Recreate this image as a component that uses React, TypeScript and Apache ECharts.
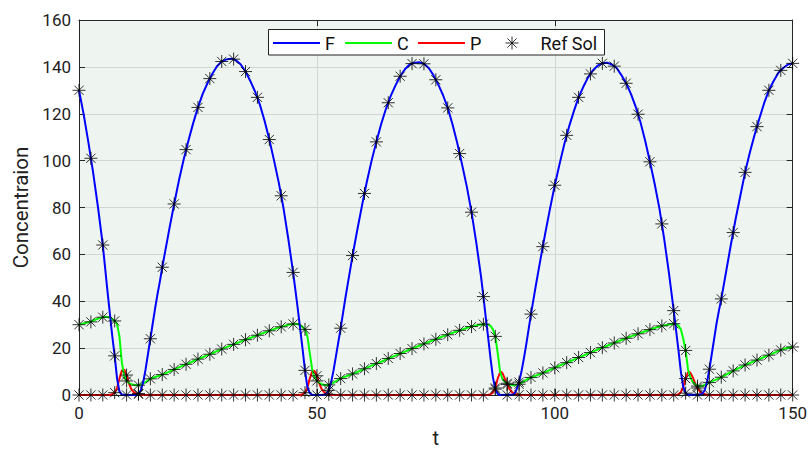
import { useEffect, useRef } from 'react';
import * as echarts from 'echarts';

// Reference-solution sample times (every 2.5)
const tRef = [0, 2.5, 5, 7.5, 10, 12.5, 15, 17.5, 20, 22.5, 25, 27.5, 30, 32.5, 35, 37.5, 40, 42.5, 45, 47.5,
  50, 52.5, 55, 57.5, 60, 62.5, 65, 67.5, 70, 72.5, 75, 77.5, 80, 82.5, 85, 87.5, 90, 92.5, 95, 97.5,
  100, 102.5, 105, 107.5, 110, 112.5, 115, 117.5, 120, 122.5, 125, 127.5, 130, 132.5, 135, 137.5, 140, 142.5, 145, 147.5, 150];

const fRef = [130, 101, 64, 16.7, 0, 0.6, 24, 54.5, 81.5, 104.7, 122.7, 135, 142.3, 143.3, 138, 127, 109, 85, 52.3, 10.5,
  0, 2, 28.5, 59.5, 86, 108, 124.7, 136, 141.4, 141.3, 134.5, 122.5, 103, 78, 42, 2.5, 0, 5.5, 34.5, 63.3,
  89.5, 110.8, 127, 137, 141.5, 140.3, 133, 119.8, 99.5, 73, 36, 0.8, 0, 11, 41, 69.3, 95, 114.5, 130, 138.5, 141.5];

const cRef = [30, 31.2, 33.2, 31.6, 6, 4.2, 6.9, 8.7, 10.9, 13.1, 15.3, 17.4, 19.6, 21.6, 23.6, 25.5, 27.4, 29.1, 30.3, 28,
  6, 4.3, 7, 9, 11.2, 13.4, 15.6, 17.7, 19.8, 21.8, 23.8, 25.7, 27.6, 29.2, 30.2, 25, 5, 4.6, 7.5, 9.4,
  11.6, 13.8, 16, 18.1, 20.2, 22.2, 24.2, 26.1, 27.9, 29.5, 30.4, 19, 3.8, 5.3, 7.6, 10.3, 12.8, 14.9, 17, 19.2, 20.5];

const pRef = [0, 0, 0, 1, 8.5, 0.3, 0, 0, 0, 0, 0, 0, 0, 0, 0, 0, 0, 0, 0, 1,
  8.2, 0.3, 0, 0, 0, 0, 0, 0, 0, 0, 0, 0, 0, 0, 0, 3, 4.5, 0.1, 0, 0,
  0, 0, 0, 0, 0, 0, 0, 0, 0, 0, 0, 7, 3, 0.1, 0, 0, 0, 0, 0, 0, 0];

// Solution curves [t, value]
const fLine = [
  [0, 130], [1, 119.5], [2, 107.5], [3, 94.5], [4, 80], [5, 64], [6, 44], [7, 25], [7.5, 16.7], [8, 7], [8.5, 1.5], [9, 0.2], [10, 0], [12, 0],
  [12.5, 0.6], [13, 2], [13.5, 5.5], [14, 11], [14.5, 17.5], [15, 24], [15.5, 30.5], [16, 37], [16.5, 43], [17, 48.5], [17.5, 54.5], [18, 60], [19, 71], [20, 81.5], [21, 91.5], [22, 100.5], [23, 108.5], [24, 116], [25, 122.7], [26, 128.5], [27, 133], [28, 137], [29, 140.3], [30, 142.3], [31, 143.2], [32, 143.5], [33, 142.8], [34, 141], [35, 138], [36, 134], [37, 129.5], [38, 124], [39, 117], [40, 109], [41, 100], [42, 90.5], [43, 79.5], [44, 66.5], [45, 52.3], [45.5, 44.5], [46, 36.5], [46.5, 28], [47, 19.5], [47.5, 10.5], [48, 3.5], [48.5, 0.8], [49, 0.1], [50, 0], [51.5, 0.1],
  [52, 0.6], [52.5, 2], [53, 5.5], [53.5, 10.5], [54, 16.5], [54.5, 22.5], [55, 28.5], [55.5, 35], [56, 41.5], [56.5, 47.5], [57.5, 59.5], [58.5, 70.5], [59.5, 81], [60.5, 91], [61.5, 100], [62.5, 108], [63.5, 115.5], [64.5, 122], [65.5, 127.5], [66.5, 132], [67.5, 136], [68.5, 139], [69.5, 141], [70.5, 141.8], [71.5, 142], [72.5, 141.3], [73.5, 139.5], [74.5, 136.5], [75.5, 132.5], [76.5, 128], [77.5, 122.5], [78.5, 115.5], [79.5, 107.5], [80.5, 98.5], [81.5, 89], [82.5, 78], [83.5, 65], [84.5, 50.5], [85, 42], [85.5, 33], [86, 24.5], [86.5, 15.5], [87, 7.5], [87.5, 2.5], [88, 0.5], [88.5, 0], [91, 0.1],
  [91.5, 0.5], [92, 2.5], [92.5, 5.5], [93, 10], [93.5, 15.5], [94, 21.5], [94.5, 28], [95, 34.5], [95.5, 40.5], [96, 46.5], [97, 58], [98, 69], [99, 79.5], [100, 89.5], [101, 98.5], [102, 107], [103, 114.5], [104, 121], [105, 127], [106, 131.5], [107, 135.5], [108, 138.5], [109, 140.5], [110, 141.5], [111, 141.8], [112, 141], [113, 139.5], [114, 136.5], [115, 133], [116, 128.5], [117, 123], [118, 116.5], [119, 108.5], [120, 99.5], [121, 90], [122, 79.5], [123, 66.5], [124, 52], [124.5, 44], [125, 36], [125.5, 27.5], [126, 19], [126.5, 10], [127, 3.5], [127.5, 0.8], [128, 0.1], [130.5, 0.1],
  [131, 0.6], [131.5, 2], [132, 5.5], [132.5, 11], [133, 17.5], [133.5, 24], [134, 30.5], [134.5, 36], [135, 41], [136, 52.5], [137, 64], [138, 75], [139, 85], [140, 95], [141, 103.5], [142, 111], [143, 118], [144, 124.5], [145, 130], [146, 134], [147, 137.5], [148, 139.5], [149, 141], [150, 141.5],
];

const cLine = [
  [0, 30], [1, 30.5], [2, 31], [3, 31.8], [4, 32.6], [5, 33.2], [5.5, 33.4], [6, 33.3], [6.5, 33], [7, 32.4], [7.5, 31.6], [8, 30.3], [8.5, 25], [9, 14], [9.5, 8], [10, 6], [10.5, 5.1], [11, 4.6], [12, 4.2], [12.5, 4.2], [13, 4.5], [14, 5.5], [15, 6.9], [16, 7.7], [17, 8.3], [18, 9.1], [19, 10], [20, 10.9], [21, 11.8], [22, 12.7], [23, 13.5], [24, 14.4], [25, 15.3], [26, 16.1], [27, 17], [28, 17.8], [29, 18.7], [30, 19.6], [31, 20.4], [32, 21.2], [33, 22], [34, 22.8], [35, 23.6], [36, 24.3], [37, 25.1], [38, 25.9], [39, 26.6], [40, 27.4], [41, 28.1], [42, 28.8], [43, 29.4], [44, 30], [45, 30.3], [45.5, 30.4], [46, 30.2], [46.5, 29.8], [47, 29], [47.5, 28], [48, 25], [48.5, 18], [49, 11], [49.5, 7.5], [50, 6], [50.5, 5.2], [51, 4.6], [52, 4.2],
  [52.5, 4.3], [53.5, 5.3], [54.5, 6.5], [55.5, 7.5], [56.5, 8.2], [57.5, 9], [58.5, 9.8], [59.5, 10.7], [60.5, 11.6], [61.5, 12.5], [62.5, 13.4], [63.5, 14.2], [64.5, 15.1], [65.5, 16], [66.5, 16.8], [67.5, 17.7], [68.5, 18.5], [69.5, 19.4], [70.5, 20.2], [71.5, 21], [72.5, 21.8], [73.5, 22.6], [74.5, 23.4], [75.5, 24.2], [76.5, 25], [77.5, 25.7], [78.5, 26.5], [79.5, 27.2], [80.5, 27.9], [81.5, 28.6], [82.5, 29.2], [83.5, 29.7], [84.5, 30.1], [85.5, 30.2], [86, 30], [86.5, 29.5], [87, 28], [87.5, 25], [88, 18], [88.5, 10], [89, 6.8], [89.5, 5.6], [90, 5], [90.5, 4.5], [91, 4.2], [91.5, 4.2],
  [92, 4.4], [93, 5.2], [94, 6.5], [95, 7.5], [96, 8.2], [97, 9], [98, 9.8], [99, 10.7], [100, 11.6], [101, 12.5], [102, 13.4], [103, 14.2], [104, 15.1], [105, 16], [106, 16.8], [107, 17.7], [108, 18.5], [109, 19.4], [110, 20.2], [111, 21], [112, 21.8], [113, 22.6], [114, 23.4], [115, 24.2], [116, 25], [117, 25.7], [118, 26.5], [119, 27.2], [120, 27.9], [121, 28.6], [122, 29.2], [123, 29.7], [124, 30.1], [125, 30.4], [125.5, 30.3], [126, 29.5], [126.5, 28], [127, 24], [127.5, 19], [128, 11], [128.5, 7.5], [129, 5.5], [129.5, 4.6], [130, 3.9], [130.5, 3.7], [131, 3.9], [131.5, 4.3], [132, 4.8],
  [132.5, 5.3], [133, 5.8], [134, 6.7], [135, 7.6], [136, 8.7], [137, 9.8], [138, 10.8], [139, 11.8], [140, 12.8], [141, 13.6], [142, 14.5], [143, 15.3], [144, 16.2], [145, 17], [146, 17.9], [147, 18.8], [148, 19.6], [149, 20.2], [150, 20.5],
];

const pLine = [
  [0, 0], [6.5, 0], [7, 0.3], [7.5, 1], [8, 3], [8.5, 7], [9, 10.3], [9.3, 11], [9.6, 10.5], [10, 8.5], [10.5, 5], [11, 2.5], [11.5, 1.2], [12, 0.5], [13, 0.1], [14, 0],
  [46.5, 0], [47, 0.3], [47.5, 1], [48, 3], [48.5, 7], [49, 10], [49.3, 10.4], [49.6, 10], [50, 8.2], [50.5, 5], [51, 2.5], [51.5, 1.2], [52, 0.5], [53, 0.1], [54, 0],
  [86, 0], [86.5, 0.3], [87, 1], [87.5, 3], [88, 7], [88.5, 9.7], [88.7, 9.9], [89, 9.3], [89.5, 7], [90, 4.5], [90.5, 2.5], [91, 1.2], [91.5, 0.5], [92.5, 0.1], [93.5, 0],
  [125.5, 0], [126, 0.3], [126.5, 1.2], [127, 3.5], [127.5, 7], [128, 9.6], [128.2, 9.9], [128.5, 9.5], [129, 7.5], [129.5, 5], [130, 3], [130.5, 1.5], [131, 0.6], [132, 0.1], [133, 0], [150, 0],
];

const xTicks = { min: 0, max: 150, interval: 50 };
const yTicks = { min: 0, max: 160, interval: 20 };

const FONT = 'Roboto, "DejaVu Sans", sans-serif';
const STAR = 'path://M10,0L10,20M0,10L20,10M2.93,2.93L17.07,17.07M2.93,17.07L17.07,2.93';
const LINE_ICON = 'path://M0,0H47V2H0Z';

export default function App() {
  const ref = useRef<HTMLDivElement>(null);
  useEffect(() => {
    const chart = echarts.init(ref.current!, null, { renderer: 'svg' });
    const refSol: number[][] = [];
    tRef.forEach((t, i) => refSol.push([t, fRef[i]]));
    tRef.forEach((t, i) => refSol.push([t, cRef[i]]));
    tRef.forEach((t, i) => refSol.push([t, pRef[i]]));
    const axisColor = '#262626';
    const starStyle = { color: 'rgba(0,0,0,0)', borderColor: '#000', borderWidth: 1 };
    const legendBase = {
      top: 34, padding: 0, itemWidth: 47, itemHeight: 13, itemGap: 0, z: 11,
      textStyle: { fontSize: 18, color: '#111', fontFamily: FONT },
    };
    chart.setOption({
      animation: false,
      backgroundColor: '#ffffff',
      grid: { left: 79, top: 20, right: 15, bottom: 57, show: true, backgroundColor: '#eef4ef', borderWidth: 0 },
      graphic: [
        { type: 'rect', z: 10, shape: { x: 268.5, y: 29.5, width: 336, height: 25.5 },
          style: { fill: '#ffffff', stroke: '#222', lineWidth: 1 } },
      ],
      legend: [
        { ...legendBase, left: 273, data: [{ name: 'F', icon: LINE_ICON }] },
        { ...legendBase, left: 345, data: [{ name: 'C', icon: LINE_ICON }] },
        { ...legendBase, left: 418, data: [{ name: 'P', icon: LINE_ICON }] },
        { ...legendBase, left: 505, data: [{ name: 'Ref Sol', icon: STAR, itemStyle: starStyle }] },
      ],
      xAxis: [
        {
          type: 'value', ...xTicks, name: 't', nameLocation: 'middle', nameGap: 33,
          nameTextStyle: { fontSize: 20, color: '#222', fontFamily: FONT },
          axisLine: { show: true, onZero: false, lineStyle: { color: axisColor } },
          axisTick: { show: true, inside: true, length: 6, lineStyle: { color: axisColor } },
          axisLabel: { fontSize: 17, color: '#222', margin: 9, fontFamily: FONT },
          splitLine: { show: true, lineStyle: { color: '#d2d7d3' } },
        },
        {
          type: 'value', position: 'top', ...xTicks,
          axisLine: { show: true, onZero: false, lineStyle: { color: axisColor } },
          axisTick: { show: true, inside: true, length: 6, lineStyle: { color: axisColor } },
          axisLabel: { show: false }, splitLine: { show: false },
        },
      ],
      yAxis: [
        {
          type: 'value', ...yTicks, name: 'Concentraion', nameLocation: 'middle', nameGap: 47, nameRotate: 90,
          nameTextStyle: { fontSize: 20.5, color: '#222', fontFamily: FONT },
          axisLine: { show: true, onZero: false, lineStyle: { color: axisColor } },
          axisTick: { show: true, inside: true, length: 6, lineStyle: { color: axisColor } },
          axisLabel: { fontSize: 17, color: '#222', margin: 8, fontFamily: FONT },
          splitLine: { show: true, lineStyle: { color: '#d2d7d3' } },
        },
        {
          type: 'value', position: 'right', ...yTicks,
          axisLine: { show: true, onZero: false, lineStyle: { color: axisColor } },
          axisTick: { show: true, inside: true, length: 6, lineStyle: { color: axisColor } },
          axisLabel: { show: false }, splitLine: { show: false },
        },
      ],
      series: [
        { name: 'F', type: 'line', data: fLine, symbol: 'none', showSymbol: false, z: 4,
          lineStyle: { color: '#0000ff', width: 2 }, itemStyle: { color: '#0000ff' } },
        { name: 'C', type: 'line', data: cLine, symbol: 'none', showSymbol: false, z: 3,
          lineStyle: { color: '#00ff00', width: 2 }, itemStyle: { color: '#00ff00' } },
        { name: 'P', type: 'line', data: pLine, symbol: 'none', showSymbol: false, z: 2,
          lineStyle: { color: '#ff0000', width: 2 }, itemStyle: { color: '#ff0000' } },
        { name: 'Ref Sol', type: 'scatter', data: refSol, symbol: STAR, symbolSize: 13, z: 6,
          itemStyle: starStyle },
      ],
    });
    return () => chart.dispose();
  }, []);
  return <div ref={ref} style={{ position: 'fixed', left: 0, top: 0, width: 810, height: 453 }} />;
}
